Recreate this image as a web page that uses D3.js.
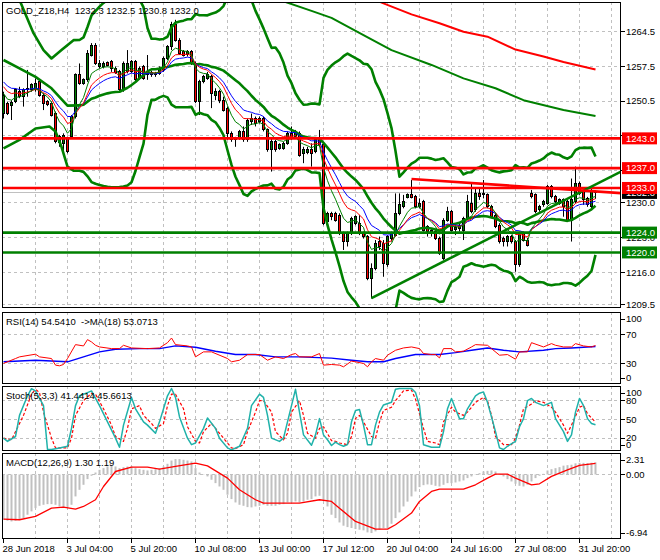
<!DOCTYPE html>
<html>
<head>
<meta charset="utf-8">
<script src="https://cdn.jsdelivr.net/npm/d3@7/dist/d3.min.js"></script>
<style>
  body { margin: 0; background: #fff; }
  svg text { font-family: "Liberation Sans", Arial, sans-serif; font-size: 9.5px; }
</style>
</head>
<body>
<svg id="chart" width="660" height="560"></svg>
<script>
// ---- data ----
const symbol = 'GOLD_Z18,H4';
const ohlcHeader = [1232.3, 1232.5, 1230.8, 1232.0];

const opens = [
  1248.0,1250.1,1249.7,1250.4,1252.4,1251.4,1252.9,1252.8,1252.9,1254.4,
  1251.7,1250.4,1250.1,1248.0,1243.3,1242.0,1243.0,1243.3,1247.4,1255.8,
  1254.1,1254.8,1259.8,1261.8,1257.5,1257.5,1258.3,1258.5,1257.1,1256.4,
  1252.8,1256.4,1256.4,1258.5,1255.1,1257.5,1255.8,1256.2,1255.8,1256.1,
  1256.8,1259.1,1261.5,1265.9,1262.8,1260.5,1260.0,1260.5,1258.1,1250.4,
  1254.4,1255.1,1255.4,1251.7,1252.4,1250.7,1249.1,1244.0,1242.7,1243.0,
  1244.4,1242.7,1246.4,1247.0,1246.4,1247.0,1244.7,1240.7,1242.3,1241.0,
  1241.0,1242.0,1244.0,1243.3,1244.0,1240.0,1240.1,1240.7,1240.3,1242.7,
  1241.7,1226.2,1227.9,1227.9,1227.5,1223.9,1222.2,1223.9,1225.9,1225.9,
  1223.9,1223.2,1214.8,1216.8,1222.2,1221.8,1217.5,1222.8,1223.5,1227.9,
  1229.2,1231.1,1231.6,1231.2,1229.2,1230.2,1225.2,1223.9,1224.2,1222.8,
  1218.8,1226.5,1228.2,1224.6,1225.5,1224.5,1226.9,1229.9,1228.6,1231.9,
  1231.6,1231.6,1229.2,1227.5,1225.5,1222.8,1222.2,1223.2,1222.2,1217.5,
  1223.9,1222.5,1231.9,1231.6,1228.6,1229.6,1229.9,1233.3,1231.2,1229.9,
  1230.6,1230.2,1226.5,1230.2,1233.9,1232.2,1230.9,1229.2,1232.3
];
const highs = [
  1252.4,1250.4,1250.7,1253.1,1253.4,1253.1,1256.8,1254.1,1255.1,1254.8,
  1252.1,1250.7,1250.4,1248.4,1243.7,1244.0,1243.3,1247.7,1256.1,1258.1,
  1255.1,1260.8,1262.2,1262.2,1258.8,1258.5,1258.5,1258.8,1257.5,1256.8,
  1258.5,1260.8,1258.8,1258.8,1257.5,1257.8,1259.8,1256.6,1256.4,1257.5,
  1259.5,1261.8,1266.5,1266.9,1263.2,1260.8,1260.8,1260.8,1258.5,1254.8,
  1255.8,1256.4,1255.8,1253.1,1252.8,1251.4,1249.4,1244.4,1243.3,1244.7,
  1245.4,1247.0,1248.0,1247.4,1247.4,1247.4,1245.0,1243.0,1242.7,1242.0,
  1242.3,1244.4,1245.4,1244.7,1244.4,1241.3,1241.3,1242.0,1243.0,1244.7,
  1242.0,1228.2,1228.2,1228.2,1227.9,1224.2,1224.2,1227.2,1227.5,1227.5,
  1224.2,1223.5,1217.8,1222.5,1223.2,1222.5,1223.5,1224.2,1231.9,1231.9,
  1231.6,1231.9,1234.6,1231.6,1230.9,1230.6,1225.5,1224.9,1224.5,1223.2,
  1226.9,1229.2,1228.6,1225.5,1225.9,1227.2,1231.6,1233.9,1232.9,1232.9,
  1234.6,1231.9,1229.6,1227.9,1225.9,1223.2,1223.5,1223.5,1222.5,1224.2,
  1224.2,1222.9,1232.6,1231.9,1229.6,1230.6,1233.6,1233.6,1231.6,1230.9,
  1230.9,1230.6,1234.9,1237.3,1234.3,1232.6,1231.2,1232.9,1232.5
];
const lows = [
  1247.0,1247.7,1246.7,1250.1,1251.1,1249.4,1251.4,1252.4,1252.4,1251.4,
  1248.7,1249.5,1247.4,1242.0,1241.3,1240.0,1240.0,1243.0,1247.0,1253.8,
  1253.8,1254.4,1259.5,1257.8,1257.1,1257.1,1257.5,1256.4,1256.0,1252.4,
  1252.4,1256.1,1256.1,1254.4,1254.8,1254.8,1254.8,1255.4,1255.4,1255.8,
  1256.4,1258.8,1260.8,1262.5,1259.8,1259.5,1259.5,1257.8,1250.1,1247.7,
  1254.1,1254.8,1249.1,1250.7,1250.1,1248.4,1242.7,1242.3,1241.3,1242.7,
  1242.3,1242.3,1245.7,1245.4,1246.0,1244.4,1240.3,1236.3,1240.3,1240.7,
  1240.7,1241.7,1242.7,1243.0,1239.3,1238.0,1239.8,1237.3,1240.0,1241.3,
  1225.5,1225.9,1226.5,1226.2,1223.5,1220.5,1221.2,1223.5,1225.5,1223.5,
  1222.8,1214.4,1210.7,1216.4,1220.5,1215.1,1217.1,1222.2,1223.2,1227.5,
  1228.9,1230.9,1230.9,1228.9,1228.9,1224.2,1223.2,1223.2,1222.5,1219.5,
  1218.5,1226.2,1224.2,1223.5,1224.2,1222.5,1226.5,1227.9,1228.2,1230.6,
  1230.9,1228.9,1226.9,1224.9,1221.8,1221.2,1221.2,1221.8,1216.1,1217.1,
  1222.2,1221.2,1230.9,1227.9,1228.2,1229.2,1229.6,1230.9,1229.9,1229.6,
  1227.2,1226.2,1222.2,1229.9,1231.6,1229.6,1229.2,1228.9,1230.8
];
const closes = [
  1251.7,1248.0,1250.2,1252.8,1251.4,1252.8,1253.1,1253.8,1254.1,1251.7,
  1250.1,1249.9,1247.7,1242.3,1242.1,1243.5,1240.3,1247.4,1255.8,1254.1,
  1254.8,1260.1,1261.8,1258.1,1258.1,1258.1,1257.6,1257.1,1256.2,1252.8,
  1258.1,1258.1,1258.5,1254.8,1257.1,1255.1,1256.4,1255.8,1256.1,1257.1,
  1259.1,1261.5,1265.9,1262.8,1260.1,1259.8,1260.5,1258.1,1250.4,1254.4,
  1255.4,1255.8,1252.1,1252.4,1250.7,1248.7,1244.0,1242.7,1243.0,1244.4,
  1242.7,1246.7,1247.0,1246.0,1247.0,1244.7,1240.7,1242.3,1240.7,1241.7,
  1242.0,1244.0,1243.0,1244.4,1239.6,1240.7,1240.8,1240.0,1242.7,1241.7,
  1225.9,1227.9,1227.3,1226.5,1223.9,1222.2,1223.9,1226.9,1227.2,1223.9,
  1223.2,1214.8,1216.8,1221.8,1221.2,1217.8,1223.2,1223.9,1227.9,1229.6,
  1230.2,1231.6,1231.1,1229.2,1229.9,1224.5,1224.2,1224.5,1222.8,1219.8,
  1226.5,1228.2,1224.5,1225.1,1224.8,1226.9,1230.2,1228.2,1231.9,1231.2,
  1231.9,1229.2,1227.2,1225.2,1222.2,1222.2,1223.2,1222.2,1217.5,1223.9,
  1222.5,1221.5,1231.2,1228.2,1229.2,1230.2,1233.3,1231.2,1230.2,1230.6,
  1229.2,1226.5,1230.6,1233.9,1231.9,1230.6,1229.6,1232.2,1232.0
];

const dateTickBars = [0, 16, 32, 48, 64, 80, 96, 112, 128, 144];
const dateTickLabels = ['28 Jun 2018', '3 Jul 04:00', '5 Jul 20:00', '10 Jul 08:00', '13 Jul 00:00',
  '17 Jul 12:00', '20 Jul 04:00', '24 Jul 16:00', '27 Jul 08:00', '31 Jul 20:00'];
const gridEvery = 8;
const priceTicks = [1264.5, 1257.5, 1250.5, 1243.5, 1236.5, 1230.0, 1223.0, 1216.0, 1209.5];
const resistanceLevels = [1243.0, 1237.0, 1233.0];
const supportLevels = [1224.0, 1220.0];
const lastPrice = 1232.0;

// trend lines [bar, price], drawn as rays to the right
const supportTrend = [[92, 1210.8], [148, 1233.7]];
const resistanceTrend = [[102, 1234.8], [148, 1232.3]];

// moving average ribbon: periods and values at the left edge
const maPeriods = [6, 10, 14];
const maStart = [1252.2, 1253.8, 1254.8];

// Bollinger (20, 3) before the 20-bar window fills
const bandLeadUpper = [[0, 1276.6], [4, 1270.9], [7.5, 1264.2], [10, 1260.8], [12, 1259.1], [14.5, 1260.8], [17.5, 1262.8]];
const bandLeadMiddle = [[0, 1258.8], [4, 1257.1], [8, 1255.4], [12, 1253.1], [16, 1249.6]];
const bandLeadLower = [[0, 1241.0], [4, 1242.7], [8, 1245.0], [11.5, 1245.4], [13, 1244.4], [14.5, 1241.3], [16, 1237.3], [17.5, 1236.5]];

// long moving averages (mostly above the visible range)
const longRedMA = [[93, 1270.9], [95, 1270.2], [102, 1268.0], [109, 1266.2], [115, 1264.5], [121, 1263.5],
  [128, 1260.9], [135, 1259.5], [140, 1258.4], [148, 1256.9]];
const longGreenMA = [[69, 1270.9], [77, 1268.7], [82, 1267.3], [90, 1263.8], [97, 1260.8], [107, 1257.8],
  [115, 1255.1], [123, 1253.1], [130, 1250.7], [140, 1248.7], [148, 1247.5]];

// RSI(14) and its MA(18)
const rsiHeader = [54.5410, 53.0713];
const rsiLine = [[0,29.7],[3,36.5],[4,38.8],[8,42.5],[9,38.8],[12,36.5],[13,27.4],[14,26.5],[15,28.3],[16,36.5],
  [18,55.7],[20,53.9],[21,62.6],[22,59.4],[23,54.8],[24,52.5],[27,50.2],[29,50.2],[30,54.8],[32,51.1],
  [36,50.2],[39,51.1],[41,58.4],[42,64.8],[43,55.7],[46,53.9],[47,52.5],[48,38.8],[50,45.7],[52,45.7],
  [56,36.5],[57,32.0],[59,34.2],[61,42.0],[64,42.0],[66,34.2],[68,38.8],[70,36.5],[72,42.0],[73,43.4],
  [74,38.8],[77,38.8],[79,43.4],[80,27.4],[82,28.3],[84,27.4],[85,25.1],[87,32.9],[88,32.0],[90,29.7],
  [91,25.1],[92,32.0],[93,36.5],[95,34.2],[96,41.1],[98,47.9],[100,51.1],[102,52.5],[104,50.2],[105,43.4],
  [107,42.0],[108,42.0],[109,37.4],[110,50.2],[112,50.2],[113,45.7],[115,46.6],[117,52.5],[118,55.7],[121,54.8],
  [122,50.2],[124,41.1],[126,42.0],[128,35.6],[129,45.7],[131,45.7],[132,58.4],[135,52.5],[137,57.1],[138,54.8],
  [140,52.5],[142,52.5],[143,57.1],[145,53.9],[147,52.5],[148,54.5]];
const rsiMA = [[0,32.0],[8,34.2],[16,32.0],[20,38.8],[24,45.7],[28,49.3],[34,50.2],[39,50.2],[43,53.9],[48,52.1],
  [53,46.6],[58,42.0],[63,42.0],[68,38.8],[74,38.8],[82,37.0],[87,34.2],[91,32.0],[95,32.0],[98,36.5],
  [103,42.0],[109,42.0],[113,44.7],[117,47.9],[121,51.1],[125,47.9],[129,45.7],[135,47.9],[138,50.2],[142,51.1],[148,53.1]];

// Stochastic(5,3,3)
const stochHeader = [41.4414, 45.6613];
const stochMain = [[0,19.9],[1,14.7],[3,22.6],[4,56.7],[6,88.2],[7,99.7],[8,96.1],[10,72.4],[11,1.6],[12,1.6],
  [14,4.2],[16,6.8],[17,35.7],[18,72.4],[19,88.2],[21,93.4],[22,96.1],[24,72.4],[26,46.2],[28,19.9],
  [29,5.2],[30,40.9],[32,85.6],[33,67.2],[35,46.2],[36,40.9],[38,27.8],[39,46.2],[41,88.2],[42,100],
  [43,85.6],[44,54.1],[46,19.9],[47,9.4],[48,12.1],[50,35.7],[51,52.5],[53,35.7],[54,19.9],[56,4.2],
  [57,1.0],[59,6.8],[61,35.7],[62,72.4],[64,90.8],[65,85.6],[66,56.7],[67,19.9],[69,14.7],[70,19.9],
  [72,72.4],[73,98.7],[74,61.9],[75,25.2],[77,8.4],[78,25.2],[79,51.4],[80,25.2],[81,17.3],[82,8.0],
  [83,13.6],[84,9.4],[85,6.8],[86,9.4],[87,46.2],[88,64.6],[89,66.1],[90,40.9],[91,9.4],[92,9.4],
  [93,40.9],[94,61.9],[95,73.5],[97,77.7],[98,98.7],[99,100],[102,100],[103,93.4],[104,72.4],[105,9.4],
  [107,5.2],[109,5.2],[110,30.4],[111,67.2],[112,84.0],[113,67.2],[114,51.4],[115,51.4],[116,67.2],[118,88.2],
  [119,92.4],[120,94.5],[121,77.7],[123,30.4],[124,4.2],[125,1.6],[126,6.8],[128,14.7],[129,38.3],[130,51.4],
  [131,80.3],[132,84.0],[133,77.7],[135,72.4],[137,77.7],[138,51.4],[140,30.4],[141,14.7],[142,25.2],[143,61.9],
  [144,84.0],[145,72.4],[146,51.4],[147,43.6],[148,41.4]];
const stochSignal = [[0,19.9],[2,17.3],[3,30.4],[5,56.7],[7,90.8],[8,98.7],[9,93.4],[10,61.9],[12,19.9],[13,4.2],
  [16,4.2],[17,19.9],[18,56.7],[20,80.3],[22,92.4],[23,90.8],[25,67.2],[27,40.9],[28,22.6],[30,14.7],
  [31,35.7],[32,67.2],[34,72.4],[35,56.7],[37,43.6],[38,35.7],[40,43.6],[41,72.4],[42,90.8],[43,90.8],
  [45,67.2],[46,38.3],[48,14.7],[49,12.1],[50,30.4],[52,43.6],[53,35.7],[55,19.9],[57,4.2],[58,3.1],
  [60,9.4],[61,30.4],[63,61.9],[64,80.3],[65,80.3],[67,61.9],[68,30.4],[70,17.3],[71,27.8],[72,61.9],
  [74,80.3],[75,56.7],[76,27.8],[78,19.9],[79,35.7],[80,38.3],[82,16.0],[83,14.7],[84,12.1],[86,9.4],
  [87,22.6],[88,51.4],[89,56.7],[90,46.2],[92,22.6],[93,19.9],[94,46.2],[95,64.6],[97,69.8],[98,80.3],
  [100,96.1],[102,97.6],[103,82.9],[105,35.7],[106,14.7],[108,12.1],[109,9.4],[110,46.2],[112,69.8],[113,61.9],
  [115,56.7],[116,61.9],[118,77.7],[120,85.6],[121,80.3],[122,56.7],[123,22.6],[125,9.4],[127,9.4],[128,19.9],
  [129,40.9],[130,67.2],[132,75.1],[133,80.3],[135,77.7],[137,69.8],[138,61.9],[140,40.9],[141,27.8],[142,40.9],
  [144,69.8],[145,72.4],[146,59.3],[148,45.7]];

// MACD(12,26,9): main per bar, signal
const macdHeader = [1.30, 1.19];
const macdMain = [
  -4.87,-4.98,-5.05,-4.98,-4.87,-4.69,-4.33,-3.97,-3.62,-3.37,
  -3.26,-3.19,-3.19,-3.26,-3.44,-3.51,-3.51,-3.26,-2.36,-1.65,
  -1.11,-0.50,-0.14,0.21,0.50,0.68,0.86,0.93,0.86,0.68,
  0.79,0.86,0.86,0.68,0.57,0.50,0.43,0.50,0.57,0.68,
  0.86,1.15,1.50,1.65,1.65,1.58,1.50,1.40,0.68,0.21,
  -0.04,-0.21,-0.57,-0.93,-1.29,-1.65,-2.18,-2.65,-3.01,-3.26,
  -3.37,-3.51,-3.54,-3.44,-3.37,-3.26,-3.37,-3.37,-3.37,-3.26,
  -3.19,-3.01,-3.01,-2.90,-3.01,-2.90,-2.72,-2.65,-2.36,-2.29,
  -2.72,-3.44,-4.33,-4.69,-5.16,-5.51,-5.66,-5.76,-5.87,-5.94,
  -6.01,-6.23,-6.30,-6.12,-5.94,-5.76,-5.76,-5.30,-4.69,-4.08,
  -3.44,-2.92,-2.36,-1.83,-1.36,-1.15,-1.07,-1.11,-1.22,-1.29,
  -1.11,-0.93,-0.93,-0.86,-0.75,-0.64,-0.39,-0.21,-0.04,0.14,
  0.32,0.39,0.43,0.32,0.07,-0.21,-0.50,-0.75,-1.00,-1.22,
  -1.29,-1.11,-0.75,-0.39,-0.14,0.07,0.43,0.57,0.68,0.79,
  0.95,1.00,1.05,1.20,1.25,1.25,1.22,1.26,1.30
];
const macdSignal = [[0,-4.80],[4,-4.87],[8,-4.51],[12,-3.62],[15,-3.51],[18,-3.72],[20,-3.44],[23,-2.72],[25,-1.29],[28,0.32],
  [32,0.79],[36,0.79],[39,0.57],[43,0.86],[48,1.22],[51,0.93],[56,-0.39],[59,-1.65],[63,-2.72],[65,-3.08],
  [74,-3.08],[79,-2.72],[82,-2.90],[84,-3.62],[88,-5.05],[93,-5.87],[96,-5.87],[98,-5.41],[102,-4.15],[104,-2.90],
  [107,-1.83],[109,-1.58],[112,-1.58],[115,-1.58],[118,-1.11],[121,-0.39],[123,0.04],[126,0.04],[128,-0.39],[132,-1.11],
  [134,-1.00],[137,-0.21],[141,0.50],[144,0.97],[148,1.19]];

// ---- layout ----
const svg = d3.select('#chart');
const L = 2, R = 621;
const panes = {
  main: {top: 2, bottom: 308},
  rsi: {top: 312, bottom: 384},
  stoch: {top: 386, bottom: 451},
  macd: {top: 453, bottom: 539}
};
const x = d3.scaleLinear().domain([0, 148]).range([3.5, 595.5]);
const yPrice = d3.scaleLinear().domain([1208.8, 1270.49]).range([308, 2]);
const yRsi = d3.scaleLinear().domain([0, 100]).range([385, 312.5]);
const yStoch = d3.scaleLinear().domain([0, 100]).range([450.5, 388.5]);
const yMacd = d3.scaleLinear().domain([-6.94, 2.31]).range([539, 453]);
const crisp = v => Math.round(v - 0.5) + 0.5;
const GRID = '#c0c0c0';

const defs = svg.append('defs');
const plots = {};
Object.entries(panes).forEach(([name, p]) => {
  defs.append('clipPath').attr('id', 'clip-' + name)
    .append('rect').attr('x', L).attr('y', p.top).attr('width', R - L).attr('height', p.bottom - p.top);
  const g = svg.append('g');
  const gridBars = d3.range(gridEvery, x.invert(R), gridEvery);
  g.selectAll('line.vgrid').data(gridBars).join('line')
    .attr('x1', i => x(i)).attr('x2', i => x(i))
    .attr('y1', p.top).attr('y2', p.bottom)
    .attr('stroke', GRID).attr('stroke-dasharray', '3,3');
  plots[name] = g.append('g').attr('clip-path', `url(#clip-${name})`);
});

function hGrid(name, values, scale) {
  plots[name].selectAll(null).data(values).join('line')
    .attr('x1', L).attr('x2', R)
    .attr('y1', v => crisp(scale(v))).attr('y2', v => crisp(scale(v)))
    .attr('stroke', GRID).attr('stroke-dasharray', '3,3');
}
function pathOf(g, pts, scale, color, width, dash) {
  const line = d3.line().x(d => x(d[0])).y(d => scale(d[1]));
  const p = g.append('path').attr('d', line(pts)).attr('fill', 'none')
    .attr('stroke', color).attr('stroke-width', width).attr('stroke-linejoin', 'round');
  if (dash) p.attr('stroke-dasharray', dash);
  return p;
}
const rayEnd = x.invert(R);
function ray(pts) {
  const [[i0, v0], [i1, v1]] = pts;
  return [[i0, v0], [rayEnd, v0 + (v1 - v0) * (rayEnd - i0) / (i1 - i0)]];
}

// ---- main pane ----
const main = plots.main;
hGrid('main', priceTicks, yPrice);
main.append('line').attr('x1', L).attr('x2', R)
  .attr('y1', crisp(yPrice(lastPrice))).attr('y2', crisp(yPrice(lastPrice)))
  .attr('stroke', '#c0c0c0');

const bars = d3.range(closes.length);
main.selectAll('line.wick').data(bars).join('line')
  .attr('x1', i => x(i)).attr('x2', i => x(i))
  .attr('y1', i => yPrice(highs[i])).attr('y2', i => yPrice(lows[i]))
  .attr('stroke', '#000');
main.selectAll('rect.body').data(bars).join('rect')
  .attr('x', i => x(i) - 1).attr('width', 2)
  .attr('y', i => crisp(yPrice(Math.max(opens[i], closes[i]))))
  .attr('height', i => Math.max(1, crisp(yPrice(Math.min(opens[i], closes[i]))) - crisp(yPrice(Math.max(opens[i], closes[i])))))
  .attr('fill', i => closes[i] >= opens[i] ? '#008000' : '#ff0000')
  .attr('stroke', '#000');

// Bollinger (20, 3)
function bollinger(values, period, dev) {
  return d3.range(period - 1, values.length).map(i => {
    const w = values.slice(i - period + 1, i + 1);
    const m = d3.mean(w);
    const sd = Math.sqrt(d3.mean(w, v => (v - m) ** 2));
    return {i, mid: m, up: m + dev * sd, low: m - dev * sd};
  });
}
const bb = bollinger(closes, 20, 3);
[[bandLeadUpper, 'up'], [bandLeadMiddle, 'mid'], [bandLeadLower, 'low']].forEach(([lead, k]) => {
  pathOf(main, lead.concat(bb.map(d => [d.i, d[k]])), yPrice, '#008000', 2.6);
});

pathOf(main, longGreenMA, yPrice, '#008000', 2);
pathOf(main, longRedMA, yPrice, '#ff0000', 2);

// EMA ribbon
function ema(values, period, start) {
  const k = 2 / (period + 1);
  let v = start;
  return values.map(c => (v += k * (c - v)));
}
const ribbonColors = ['#008000', '#ff0000', '#0000ff'];
[2, 1, 0].forEach(j => {
  const e = ema(closes, maPeriods[j], maStart[j]);
  pathOf(main, e.map((v, i) => [i, v]), yPrice, ribbonColors[j], 1);
});

// horizontal levels and trend lines
supportLevels.forEach(v => main.append('line').attr('x1', L).attr('x2', R)
  .attr('y1', yPrice(v)).attr('y2', yPrice(v)).attr('stroke', '#008000').attr('stroke-width', 2.6));
resistanceLevels.forEach(v => main.append('line').attr('x1', L).attr('x2', R)
  .attr('y1', yPrice(v)).attr('y2', yPrice(v)).attr('stroke', '#ff0000').attr('stroke-width', 2.6));
pathOf(main, ray(supportTrend), yPrice, '#008000', 2.6);
pathOf(main, ray(resistanceTrend), yPrice, '#ff0000', 2.6);

// ---- RSI ----
hGrid('rsi', [70, 30], yRsi);
pathOf(plots.rsi, rsiMA, yRsi, '#0000ff', 1.4);
pathOf(plots.rsi, rsiLine, yRsi, '#ff0000', 1);

// ---- Stochastic ----
hGrid('stoch', [80, 50, 20], yStoch);
pathOf(plots.stoch, stochSignal, yStoch, '#ff0000', 1.2, '3,2');
pathOf(plots.stoch, stochMain, yStoch, '#20b2aa', 1.5);

// ---- MACD ----
hGrid('macd', [0], yMacd);
plots.macd.selectAll('rect.hist').data(bars).join('rect')
  .attr('x', i => Math.floor(x(i)) - 0.5).attr('width', 2)
  .attr('y', i => Math.min(yMacd(0), yMacd(macdMain[i])))
  .attr('height', i => Math.abs(yMacd(macdMain[i]) - yMacd(0)))
  .attr('fill', '#c0c0c0');
pathOf(plots.macd, macdSignal, yMacd, '#ff0000', 1.3);

// ---- frames ----
Object.values(panes).forEach(p => {
  svg.append('rect').attr('x', L + 0.5).attr('y', p.top + 0.5)
    .attr('width', R - L - 1).attr('height', p.bottom - p.top - 1)
    .attr('fill', 'none').attr('stroke', '#000');
});

// ---- right axis ----
function axisLabel(y, txt) {
  svg.append('line').attr('x1', R).attr('x2', R + 4).attr('y1', crisp(y)).attr('y2', crisp(y)).attr('stroke', '#000');
  svg.append('text').attr('x', 626).attr('y', y).attr('dy', '0.35em').attr('fill', '#000').text(txt);
}
// price ticks fully hidden behind a level box are not labelled
const boxed = resistanceLevels.concat(supportLevels, [lastPrice]);
priceTicks.forEach(v => {
  const y = yPrice(v);
  const hidden = boxed.some(b => Math.abs(yPrice(b) - y) < 4);
  if (hidden) {
    svg.append('line').attr('x1', R).attr('x2', R + 4).attr('y1', crisp(y)).attr('y2', crisp(y)).attr('stroke', '#000');
  } else {
    axisLabel(y, v.toFixed(1));
  }
});
function paneLabels(values, scale, p, fmt) {
  values.forEach(v => axisLabel(Math.max(p.top + 7, Math.min(p.bottom - 6, scale(v))), fmt(v)));
}
paneLabels([100, 70, 30, 0], yRsi, panes.rsi, v => String(v));
paneLabels([100, 80, 50, 20, 0], yStoch, panes.stoch, v => String(v));
paneLabels([2.31, 0, -6.94], yMacd, panes.macd, v => v.toFixed(2));

function levelBox(v, color) {
  const y = yPrice(v);
  svg.append('rect').attr('x', 622).attr('y', y - 6).attr('width', 35).attr('height', 12).attr('fill', color);
  svg.append('text').attr('x', 626).attr('y', y).attr('dy', '0.35em').attr('fill', '#fff').text(v.toFixed(1));
}
levelBox(lastPrice, '#000');
resistanceLevels.forEach(v => levelBox(v, '#ff0000'));
supportLevels.forEach(v => levelBox(v, '#008000'));

// ---- time axis ----
dateTickBars.forEach((b, k) => {
  svg.append('line').attr('x1', x(b)).attr('x2', x(b)).attr('y1', 539).attr('y2', 543).attr('stroke', '#000');
  svg.append('text').attr('x', x(b) - 1).attr('y', 552).attr('fill', '#000').text(dateTickLabels[k]);
});

// ---- headers ----
function header(y, txt) {
  svg.append('text').attr('x', 6).attr('y', y).attr('fill', '#000').style('white-space', 'pre').text(txt);
}
header(13.5, `${symbol}  ${ohlcHeader.map(v => v.toFixed(1)).join(' ')}`);
header(324.5, `RSI(14) ${rsiHeader[0].toFixed(4)}  ->MA(18) ${rsiHeader[1].toFixed(4)}`);
header(399, `Stoch(5,3,3) ${stochHeader[0].toFixed(4)} ${stochHeader[1].toFixed(4)}`);
header(466, `MACD(12,26,9) ${macdHeader[0].toFixed(2)} ${macdHeader[1].toFixed(2)}`);
</script>
</body>
</html>
